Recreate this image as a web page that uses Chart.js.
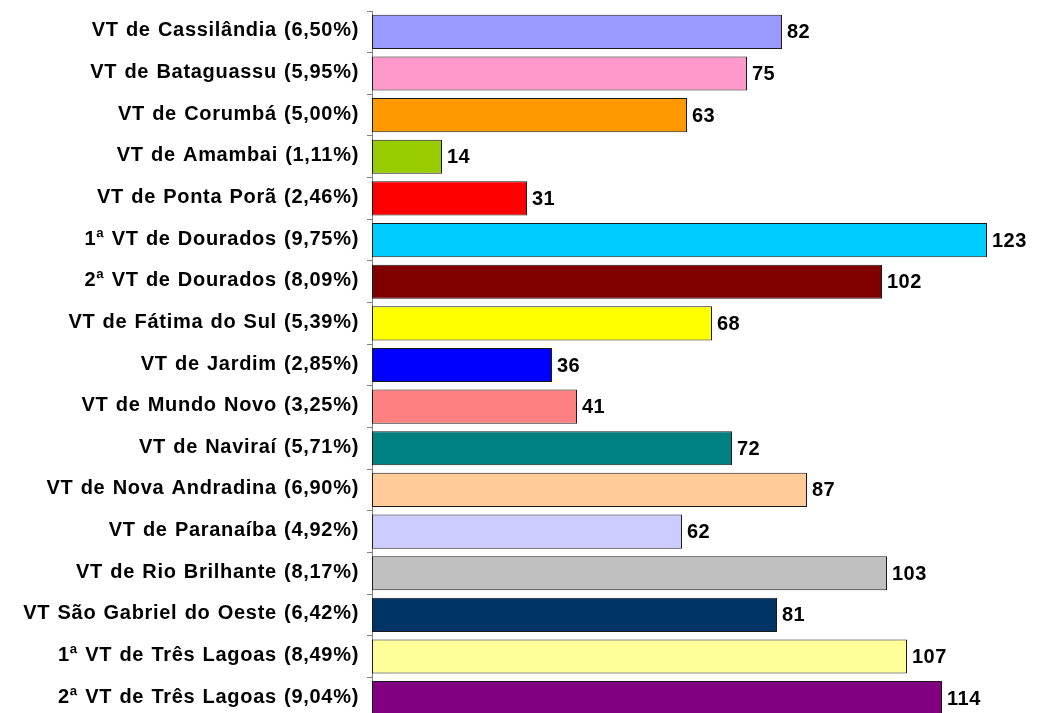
<!DOCTYPE html>
<html>
<head>
<meta charset="utf-8">
<script src="https://cdn.jsdelivr.net/npm/chart.js@4.4.1/dist/chart.umd.min.js"></script>
<style>
  html, body { margin: 0; padding: 0; background: #fff; overflow: hidden; }
  #wrap { position: relative; width: 1061px; height: 719px; }
</style>
</head>
<body>
<div id="wrap"><canvas id="grafico"></canvas></div>
<script>
// ── DADOS ────────────────────────────────────────────
const varas = [
  'VT de Cassilândia (6,50%)', 'VT de Bataguassu (5,95%)', 'VT de Corumbá (5,00%)',
  'VT de Amambai (1,11%)', 'VT de Ponta Porã (2,46%)', '1ª VT de Dourados (9,75%)',
  '2ª VT de Dourados (8,09%)', 'VT de Fátima do Sul (5,39%)', 'VT de Jardim (2,85%)',
  'VT de Mundo Novo (3,25%)', 'VT de Naviraí (5,71%)', 'VT de Nova Andradina (6,90%)',
  'VT de Paranaíba (4,92%)', 'VT de Rio Brilhante (8,17%)', 'VT São Gabriel do Oeste (6,42%)',
  '1ª VT de Três Lagoas (8,49%)', '2ª VT de Três Lagoas (9,04%)'
];
const valores = [82, 75, 63, 14, 31, 123, 102, 68, 36, 41, 72, 87, 62, 103, 81, 107, 114];
const cores = [
  '#9999FF', '#FF99CC', '#FF9900', '#99CC00', '#FF0000', '#00CCFF', '#800000', '#FFFF00',
  '#0000FF', '#FF8080', '#008080', '#FFCC99', '#CCCCFF', '#C0C0C0', '#003366', '#FFFF99', '#800080'
];

const FONTE = '"Liberation Sans", Arial, sans-serif';

// ── RÓTULOS (categorias + valores) ───────────────────
const rotulos = {
  id: 'rotulos',
  afterDatasetsDraw(chart) {
    const ctx = chart.ctx;
    const meta = chart.getDatasetMeta(0);
    const esq = chart.chartArea.left;
    ctx.save();
    ctx.fillStyle = '#000';
    ctx.textBaseline = 'middle';

    // nomes das varas, à esquerda do eixo
    ctx.font = 'bold 20px ' + FONTE;
    ctx.letterSpacing = '0.7px';
    ctx.wordSpacing = '1px';
    ctx.textAlign = 'right';
    meta.data.forEach((bar, i) => {
      ctx.fillText(varas[i], esq - 13, bar.y - 1);
    });

    // valores, à direita de cada barra
    ctx.font = 'bold 20px ' + FONTE;
    ctx.letterSpacing = '0.5px';
    ctx.wordSpacing = '0px';
    ctx.textAlign = 'left';
    meta.data.forEach((bar, i) => {
      ctx.fillText(String(valores[i]), bar.x + 5, bar.y + 1);
    });
    ctx.restore();
  }
};

// ── GRÁFICO ──────────────────────────────────────────
new Chart(document.getElementById('grafico'), {
  type: 'bar',
  data: {
    labels: varas,
    datasets: [{
      data: valores,
      backgroundColor: cores,
      borderColor: '#1a1a1a',
      borderWidth: 1,
      borderSkipped: false,
      barPercentage: 0.82,
      categoryPercentage: 1
    }]
  },
  options: {
    indexAxis: 'y',
    responsive: true,
    maintainAspectRatio: false,
    animation: false,
    layout: { padding: { top: 11, right: 39, bottom: 0, left: 0 } },
    plugins: { legend: { display: false }, tooltip: { enabled: false } },
    scales: {
      x: { display: false, min: 0, max: 130 },
      y: {
        afterFit(scale) {
          scale.width = 372;
          scale.paddingTop = 0;
          scale.paddingBottom = 0;
        },
        border: { display: true, color: '#808080', width: 1 },
        grid: { drawOnChartArea: false, tickLength: 5, color: '#808080', offset: true },
        ticks: { display: false }
      }
    }
  },
  plugins: [rotulos]
});
</script>
</body>
</html>
